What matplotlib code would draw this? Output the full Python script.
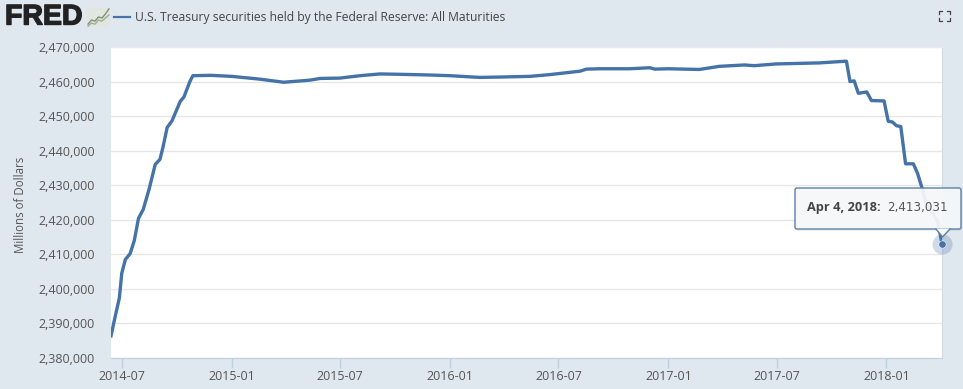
import numpy as np
import pandas as pd
import matplotlib
matplotlib.use('Agg')
from matplotlib import pyplot as plt
from matplotlib.lines import Line2D
from matplotlib.patches import FancyBboxPatch, Polygon
import matplotlib.dates as mdates
import matplotlib.patheffects as pe

plt.rcParams['font.family'] = ['Open Sans', 'DejaVu Sans']

dates = ['2014-06-13', '2014-06-20', '2014-06-27', '2014-07-01', '2014-07-07', '2014-07-15',
         '2014-07-22', '2014-07-29', '2014-08-06', '2014-08-16', '2014-08-26', '2014-09-03',
         '2014-09-08', '2014-09-15', '2014-09-23', '2014-10-07', '2014-10-13', '2014-10-23',
         '2014-10-28', '2014-11-27', '2015-01-01', '2015-02-17', '2015-03-29', '2015-05-12',
         '2015-05-29', '2015-07-01', '2015-08-04', '2015-09-06', '2015-10-09', '2015-11-28',
         '2016-01-01', '2016-02-20', '2016-03-24', '2016-05-14', '2016-06-16', '2016-08-06',
         '2016-08-17', '2016-09-08', '2016-10-28', '2016-12-01', '2016-12-09', '2017-01-01',
         '2017-02-22', '2017-03-27', '2017-05-08', '2017-05-25', '2017-07-01', '2017-09-11',
         '2017-10-26', '2017-11-01', '2017-11-08', '2017-11-15', '2017-11-29', '2017-12-07',
         '2017-12-28', '2018-01-04', '2018-01-11', '2018-01-18', '2018-01-25', '2018-02-02',
         '2018-02-15', '2018-02-22', '2018-03-01', '2018-03-08', '2018-03-28', '2018-04-04']
values = [2386400, 2392000, 2397400, 2404500, 2408500, 2410200,
          2414000, 2420400, 2423000, 2429000, 2436000, 2437500,
          2441000, 2446700, 2448600, 2454300, 2455500, 2460000,
          2461700, 2461800, 2461500, 2460700, 2459800, 2460400,
          2460900, 2461000, 2461700, 2462200, 2462100, 2461900,
          2461700, 2461200, 2461300, 2461500, 2462000, 2463000,
          2463600, 2463700, 2463700, 2464000, 2463600, 2463700,
          2463500, 2464400, 2464800, 2464600, 2465100, 2465400,
          2465900, 2460000, 2460200, 2456600, 2457000, 2454500,
          2454400, 2448500, 2448300, 2447200, 2447000, 2436200,
          2436200, 2433500, 2429500, 2425000, 2419500, 2413031]

y_ticks = [2380000, 2390000, 2400000, 2410000, 2420000, 2430000, 2440000, 2450000, 2460000, 2470000]
x_ticks = ['2014-07', '2015-01', '2015-07', '2016-01', '2016-07', '2017-01', '2017-07', '2018-01']

title = "U.S. Treasury securities held by the Federal Reserve: All Maturities"

# the small chart inside the logo
logo_a = [1, 3, 2.5, 4.5, 4, 6, 8.5]
logo_b = [0, 1.5, 1, 3, 2.5, 4, 5.5]

LINE = '#4572a7'
BG = '#dfe7ef'
TEXT = '#555555'
TIP = '#f6f8fa'
W, H = 963, 389


def fx(px):
    return px / W


def fy(px):
    return 1 - px / H


def draw_logo(fig):
    fig.text(fx(5), fy(17.5), "FRED", fontsize=20.5, fontweight='bold', color='#222222',
             family='Liberation Sans', va='center', ha='left',
             path_effects=[pe.withStroke(linewidth=1.0, foreground='#222222')])
    icon = fig.add_axes([fx(87), fy(27), fx(23), 19 / H])
    icon.set_facecolor('#e1e6de')
    icon.plot(logo_a, color='#7f9174', lw=1)
    icon.plot(logo_b, color='#9fb092', lw=1)
    icon.set_xticks([])
    icon.set_yticks([])
    for s in icon.spines.values():
        s.set_visible(False)


def draw_fullscreen(fig):
    for cx, cy, dx, dy in [(939, 11, 1, 1), (950, 11, -1, 1), (939, 21, 1, -1), (950, 21, -1, -1)]:
        fig.add_artist(Line2D([fx(cx + 3 * dx), fx(cx), fx(cx)], [fy(cy), fy(cy), fy(cy + 3 * dy)],
                              color='#444444', lw=0.9))


def draw_tooltip(fig):
    shadow = FancyBboxPatch((fx(796), fy(231)), fx(166), 41 / H, transform=fig.transFigure,
                            boxstyle='round,pad=0,rounding_size=0.002', mutation_aspect=2.5,
                            fc=(0, 0, 0, 0.06), ec='none', zorder=4)
    fig.add_artist(shadow)
    box = FancyBboxPatch((fx(795), fy(229)), fx(166), 41 / H, transform=fig.transFigure,
                         boxstyle='round,pad=0,rounding_size=0.002', mutation_aspect=2.5,
                         fc=(0.965, 0.973, 0.98, 0.94), ec='#5b7fa8', lw=1, zorder=5)
    fig.add_artist(box)
    tip = Polygon([[fx(936), fy(228.5)], [fx(950), fy(228.5)], [fx(942.5), fy(237)]],
                  transform=fig.transFigure, fc=TIP, ec='none', zorder=6)
    fig.add_artist(tip)
    fig.add_artist(Line2D([fx(936), fx(942.5), fx(950)], [fy(229), fy(237), fy(229)],
                          color='#5b7fa8', lw=1, zorder=6))
    fig.text(fx(807), fy(207.5), "Apr 4, 2018:", fontsize=9.2, fontweight='bold', color='#444444',
             va='center', ha='left', zorder=7)
    fig.text(fx(887), fy(207.5), "2,413,031", fontsize=8.6, color='#555555',
             family='DejaVu Sans', va='center', ha='left', zorder=7)


def plot_chart():
    x = pd.to_datetime(dates)
    fig = plt.figure(figsize=(W / 100, H / 100), dpi=100, facecolor=BG)
    ax = fig.add_axes([fx(111), 1 - 358 / H, 831 / W, 311 / H])
    ax.set_facecolor('white')

    ax.plot(x, values, color=LINE, lw=2.4, solid_joinstyle='round', zorder=3)
    ax.scatter(x[-1:], values[-1:], s=210, color=LINE, alpha=0.25, lw=0, clip_on=False, zorder=4)
    ax.scatter(x[-1:], values[-1:], s=28, color=LINE, edgecolor='white', lw=0.4, clip_on=False, zorder=4)

    ax.set_xlim(pd.Timestamp('2014-06-13'), pd.Timestamp('2018-04-04'))
    ax.set_ylim(y_ticks[0], y_ticks[-1])
    ax.set_yticks(y_ticks)
    ax.set_yticklabels([f"{v:,}" for v in y_ticks])
    ax.set_xticks(pd.to_datetime(x_ticks))
    ax.xaxis.set_major_formatter(mdates.DateFormatter('%Y-%m'))

    ax.grid(axis='y', color='#e6e6e6', lw=1)
    ax.set_axisbelow(True)
    ax.spines['left'].set_visible(False)
    ax.spines['top'].set_color('#e6ebf0')
    ax.spines['right'].set_color('#d3dae2')
    ax.spines['bottom'].set_color('#c0d0e0')
    ax.tick_params(axis='y', length=0, pad=11.5, labelsize=9, labelcolor=TEXT)
    ax.tick_params(axis='x', length=7, width=1, color='#c0d0e0', pad=1.5, labelsize=9, labelcolor=TEXT)

    fig.text(fx(20), fy(205), "Millions of Dollars", rotation=90, fontsize=8.3, color=TEXT,
             va='center', ha='center')
    fig.add_artist(Line2D([fx(114), fx(130)], [fy(17), fy(17)], color=LINE, lw=1.6))
    fig.text(fx(135), fy(17), title, fontsize=8.7, color='#444444', va='center', ha='left')

    draw_logo(fig)
    draw_fullscreen(fig)
    draw_tooltip(fig)

    fig.savefig('out.png', dpi=100, facecolor=BG)
    plt.close(fig)


if __name__ == '__main__':
    plot_chart()
